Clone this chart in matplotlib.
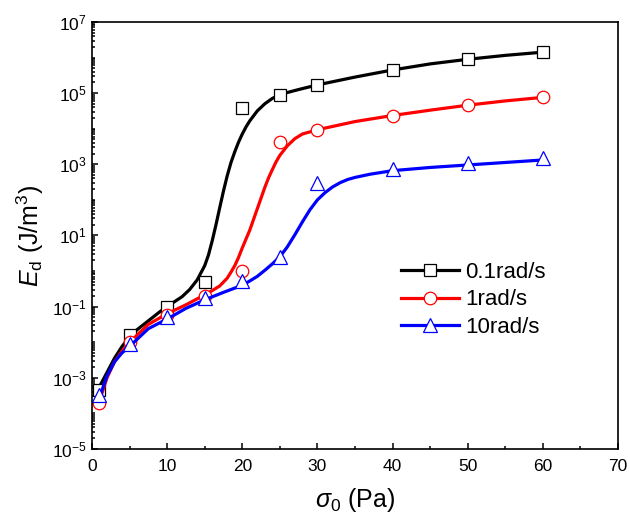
import matplotlib
matplotlib.use("Agg")
import matplotlib.pyplot as plt
import numpy as np
from matplotlib.lines import Line2D
from matplotlib.ticker import LogLocator, NullFormatter, MultipleLocator, FixedLocator

plt.rcParams["font.family"] = ["Liberation Sans", "DejaVu Sans"]
plt.rcParams["mathtext.fontset"] = "custom"
plt.rcParams["mathtext.rm"] = "Liberation Sans"
plt.rcParams["mathtext.it"] = "Liberation Sans:italic"
plt.rcParams["mathtext.default"] = "regular"
plt.rcParams["axes.unicode_minus"] = False

# measured points
stress = [1, 5, 10, 15, 20, 25, 30, 40, 50, 60]
ed_01 = [4.6e-4, 0.016, 0.10, 0.48, 3.9e4, 9.0e4, 1.7e5, 4.5e5, 9.0e5, 1.4e6]
ed_1 = [1.9e-4, 0.0098, 0.059, 0.20, 0.97, 4.3e3, 9.3e3, 2.3e4, 4.6e4, 7.6e4]
ed_10 = [3.3e-4, 0.009, 0.052, 0.17, 0.51, 2.5, 295, 720, 1070, 1500]

# fitted curves (x, log10 Ed)
fit_x_01 = [1, 2, 3, 4, 5, 6, 7.5, 9, 10, 11, 12, 13, 14, 15, 15.5, 16, 16.5, 17,
            17.5, 18, 18.5, 19, 19.5, 20, 20.5, 21, 22, 23, 24, 25, 27.5, 30, 35,
            40, 45, 50, 55, 60]
fit_log_01 = [-3.25, -2.85, -2.45, -2.12, -1.85, -1.65, -1.40, -1.15, -1.00, -0.86,
              -0.72, -0.52, -0.25, 0.15, 0.45, 0.85, 1.30, 1.78, 2.25, 2.68, 3.05,
              3.35, 3.62, 3.85, 4.05, 4.22, 4.50, 4.70, 4.85, 4.96, 5.10, 5.23,
              5.45, 5.65, 5.82, 5.95, 6.06, 6.15]
fit_x_1 = [1, 2, 3, 4, 5, 6, 7.5, 10, 12.5, 15, 16, 17, 18, 18.5, 19, 19.5, 20,
           20.5, 21, 21.5, 22, 22.5, 23, 23.5, 24, 24.5, 25, 26, 27, 28, 30, 35,
           40, 45, 50, 55, 60]
fit_log_1 = [-3.65, -3.00, -2.55, -2.25, -2.02, -1.80, -1.50, -1.20, -0.95, -0.67,
             -0.55, -0.42, -0.20, -0.03, 0.15, 0.38, 0.65, 0.90, 1.15, 1.45, 1.75,
             2.05, 2.35, 2.62, 2.85, 3.07, 3.25, 3.52, 3.72, 3.85, 3.97, 4.20,
             4.37, 4.52, 4.66, 4.78, 4.88]
fit_x_10 = [1, 2, 3, 4, 5, 6, 7.5, 10, 12.5, 15, 17.5, 20, 21, 22, 23, 24, 25, 26,
            27, 28, 29, 30, 31, 32, 33, 34, 35, 37, 40, 45, 50, 55, 60]
fit_log_10 = [-3.55, -2.95, -2.55, -2.30, -2.12, -1.92, -1.62, -1.35, -1.05, -0.81,
              -0.60, -0.40, -0.28, -0.15, 0.02, 0.20, 0.40, 0.68, 1.02, 1.38, 1.72,
              2.00, 2.20, 2.36, 2.48, 2.57, 2.63, 2.72, 2.82, 2.91, 2.98, 3.05,
              3.12]

labels = ["0.1rad/s", "1rad/s", "10rad/s"]
colors = ["black", "red", "blue"]
markers = ["s", "o", "^"]
msizes = [8, 9, 10.5]
y_major = [1e-5, 1e-3, 1e-1, 1e1, 1e3, 1e5, 1e7]

fig = plt.figure(figsize=(6.3, 5.22), dpi=100)
ax = fig.add_axes([0.146, 0.140, 0.835, 0.818])

series = [
    (ed_01, fit_x_01, fit_log_01),
    (ed_1, fit_x_1, fit_log_1),
    (ed_10, fit_x_10, fit_log_10),
]
handles = []
for (pts, fx, flog), c, m, ms, lab in zip(series, colors, markers, msizes, labels):
    ax.plot(fx, np.power(10.0, flog), color=c, lw=2.3, solid_capstyle="round",
            solid_joinstyle="round")
    ax.plot(stress, pts, ls="none", marker=m, ms=ms, mfc="white", mec=c, mew=0.9)
    handles.append(Line2D([], [], color=c, lw=2.3, marker=m, ms=ms,
                          mfc="white", mec=c, mew=0.9, label=lab))

ax.set_yscale("log")
ax.set_xlim(0, 70)
ax.set_ylim(1e-5, 1e7)
ax.xaxis.set_major_locator(MultipleLocator(10))
ax.xaxis.set_minor_locator(MultipleLocator(5))
ax.yaxis.set_major_locator(FixedLocator(y_major))
ax.yaxis.set_minor_locator(LogLocator(base=10, subs=np.arange(1, 10), numticks=40))
ax.yaxis.set_minor_formatter(NullFormatter())

ax.tick_params(which="both", direction="in", top=False, right=False,
               labelsize=12.5, width=1.1)
ax.tick_params(which="major", length=4.5)
ax.tick_params(which="minor", length=2.5)
ax.tick_params(axis="x", pad=7)
ax.tick_params(axis="y", pad=4)
for sp in ax.spines.values():
    sp.set_linewidth(1.2)

ax.set_xlabel(r"$\mathit{\sigma}_0$ (Pa)", fontsize=18, labelpad=9)
ax.set_ylabel(r"$\mathit{E}_\mathrm{d}$ (J/m$^3$)", fontsize=18, labelpad=4)

ax.legend(handles=handles, loc="center left", bbox_to_anchor=(0.587, 0.349),
          frameon=False, fontsize=16, handlelength=2.6, handletextpad=0.3,
          labelspacing=0.3, borderpad=0, borderaxespad=0)

fig.savefig("out.png", dpi=100)
